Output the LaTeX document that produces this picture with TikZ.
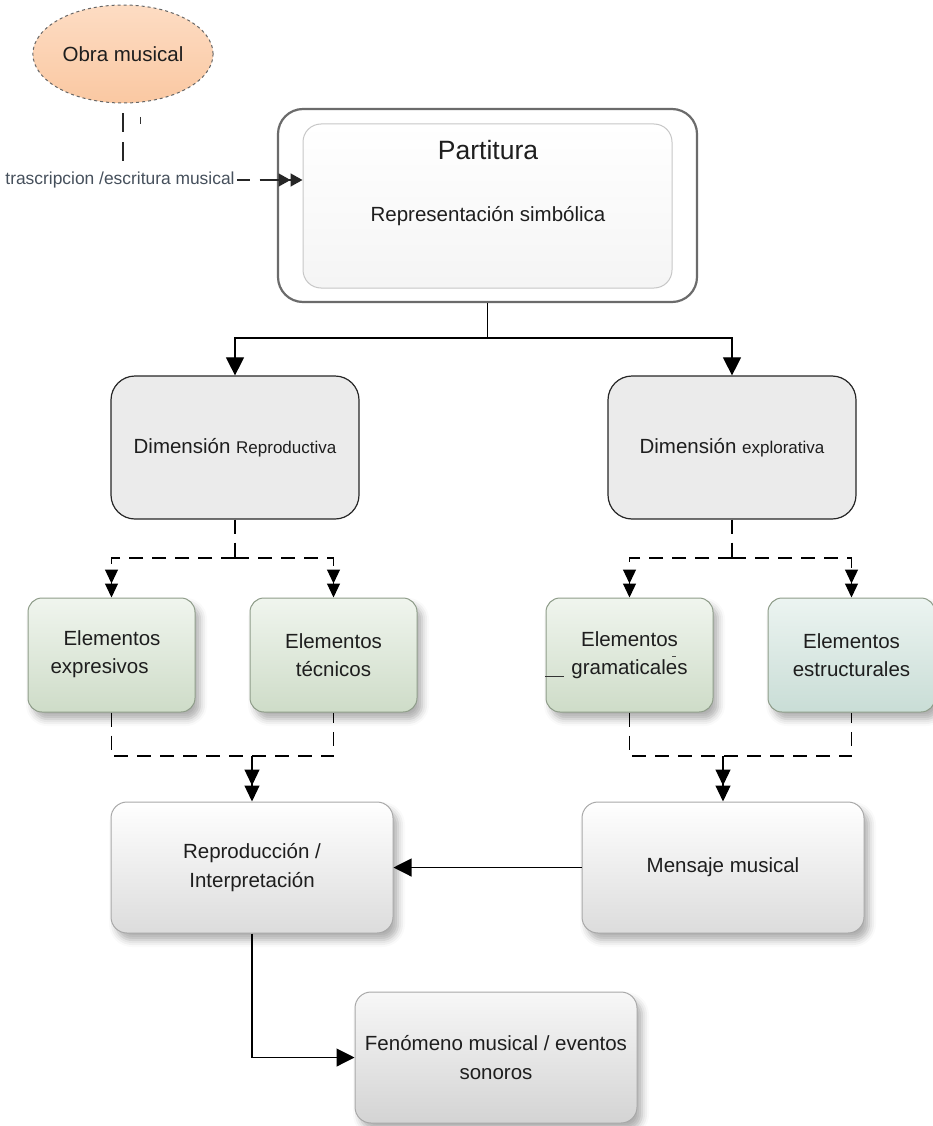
\documentclass[tikz,border=0pt]{standalone}
\usepackage{fontspec}
\setmainfont{Liberation Sans}
\usetikzlibrary{arrows.meta,shapes.geometric,shadows.blur,calc}

\definecolor{ink}{HTML}{1E1E1E}
\definecolor{labelgray}{HTML}{46505C}
\definecolor{dimfill}{HTML}{EBEBEB}
\definecolor{greentop}{HTML}{F0F5EE}
\definecolor{greenbot}{HTML}{CEDCC8}
\definecolor{tealtop}{HTML}{ECF4F1}
\definecolor{tealbot}{HTML}{C9DDD6}
\definecolor{greenedge}{HTML}{8E9C89}
\definecolor{grayedge}{HTML}{A8A8A8}
\definecolor{graybot}{HTML}{DCDCDC}
\definecolor{peachtop}{HTML}{FDDCC3}
\definecolor{peachbot}{HTML}{FAC8A2}

\tikzset{
  softshadow/.style={blur shadow={shadow xshift=5pt, shadow yshift=-7pt,
      shadow blur radius=7pt, shadow opacity=32}},
  txt/.style={text=ink, inner sep=0pt, align=center},
  dimbox/.style={draw=black!85, line width=1.2pt, fill=dimfill,
      rounded corners=24pt, minimum width=248pt, minimum height=143pt,
      text=ink},
  elembox/.style={draw=greenedge, line width=1pt, rounded corners=14pt,
      top color=greentop, bottom color=greenbot, minimum width=167pt,
      minimum height=114pt, softshadow, align=center, text=ink},
  procbox/.style={draw=grayedge, line width=1pt, rounded corners=16pt,
      top color=white, bottom color=graybot, minimum width=282pt,
      minimum height=131pt, softshadow, align=center, text=ink},
  flow/.style={draw=black, line width=1.1pt,
      -{Triangle[length=18pt,width=18pt]}},
  dline/.style={draw=black, line width=1.2pt, dash pattern=on 14pt off 9pt},
  branch/.style={dline,
      -{Triangle[length=14pt,width=13pt,sep=0pt]Triangle[length=14pt,width=13pt]}},
  merge/.style={draw=black, line width=1.2pt,
      -{Triangle[length=16pt,width=15pt,sep=0pt]Triangle[length=16pt,width=15pt]}},
  obraline/.style={draw=black!85, line width=1.6pt,
      dash pattern=on 19pt off 10pt, dash phase=19pt,
      -{Triangle[length=12pt,width=13pt,sep=0pt]Triangle[length=12pt,width=13pt]}},
}

\begin{document}
\begin{tikzpicture}[x=1pt, y=1pt, font=\fontsize{20.5}{28.5}\selectfont]
\useasboundingbox (0,0) rectangle (932,-1126);

% --- source work ---
\node[ellipse, draw=black!60, dashed, line width=1pt,
      top color=peachtop, bottom color=peachbot,
      minimum width=142pt, minimum height=98pt, text=ink]
  (obra) at (123,-54) {Obra musical};

% --- score ---
\node[draw=black!58, line width=2.2pt, rounded corners=25pt, fill=white,
      minimum width=419pt, minimum height=193pt] (outer) at (487.5,-205.5) {};
\node[draw=black!22, line width=1pt, rounded corners=18pt,
      top color=white, bottom color=black!4,
      minimum width=369pt, minimum height=164pt] (inner) at (487.5,-206) {};
\node[txt, anchor=base, font=\fontsize{26.5}{30}\selectfont] (ptitle) at (488,-160) {Partitura};
\node[txt, anchor=base] (psub) at (488,-221) {Representación simbólica};

% --- dimensions ---
\node[dimbox] (dimR) at (235,-447.5)
  {Dimensión {\fontsize{17}{20}\selectfont Reproductiva}};
\node[dimbox] (dimE) at (732,-447.5)
  {Dimensión {\fontsize{17}{20}\selectfont explorativa}};

% --- elements ---
\node[elembox] (expr) at (111.5,-655) {};
\node[txt, align=left] at ($(expr.center)+(-6,1)$) {\hspace*{13pt}Elementos\\expresivos};
\node[elembox] (tec) at (333.5,-655) {Elementos\\técnicos};
\node[elembox] (gram) at (629.5,-655) {Elementos\\gramaticales};
\node[elembox, top color=tealtop, bottom color=tealbot] (estr) at (851.5,-655)
  {Elementos\\estructurales};

% --- outcomes ---
\node[procbox] (repro) at (252,-867.5) {Reproducción /\\Interpretación};
\node[procbox] (mens) at (723,-867.5) {Mensaje musical};
\node[procbox, bottom color=black!17, top color=black!3] (fen) at (496,-1057.5)
  {Fenómeno musical / eventos\\sonoros};

% --- junction points ---
\coordinate (pj) at (487.5,-338);
\coordinate (jR) at (235,-558);
\coordinate (jE) at (732,-558);
\coordinate (mR) at (252,-756);
\coordinate (mE) at (723,-756);
\coordinate (tin) at ($(inner.west)+(0,26)$);

% --- connectors ---
\draw[obraline] (obra.south) |-
  node[pos=0.5, xshift=-3pt, fill=white, inner sep=2pt, text=labelgray,
       font=\fontsize{17.4}{20}\selectfont] (tlabel) {trascripcion /escritura musical}
  (tin);

\draw[line width=1.1pt] (outer.south) -- (pj);
\draw[flow] (pj) -| (dimR.north);
\draw[flow] (pj) -| (dimE.north);

\draw[dline] (dimR.south) -- (jR);
\draw[branch] (jR) -| (expr.north);
\draw[branch] (jR) -| (tec.north);
\draw[dline] (dimE.south) -- (jE);
\draw[branch] (jE) -| (gram.north);
\draw[branch] (jE) -| (estr.north);

\draw[dline] (expr.south) |- (mR) -| (tec.south);
\draw[merge] (mR) -- (repro.north);
\draw[dline] (gram.south) |- (mE) -| (estr.south);
\draw[merge] (mE) -- (mens.north);

\draw[flow] (mens.west) -- (repro.east);
\draw[flow] (repro.south) |- (fen.west);

% --- small stray strokes ---
\draw[line width=0.8pt, black!80] (140,-117) -- (140,-124);
\draw[line width=1pt, black!80] (545,-676) -- (564,-676);
\draw[line width=1pt, black!70] (672,-656.5) -- (676,-656.5);
\end{tikzpicture}
\end{document}
